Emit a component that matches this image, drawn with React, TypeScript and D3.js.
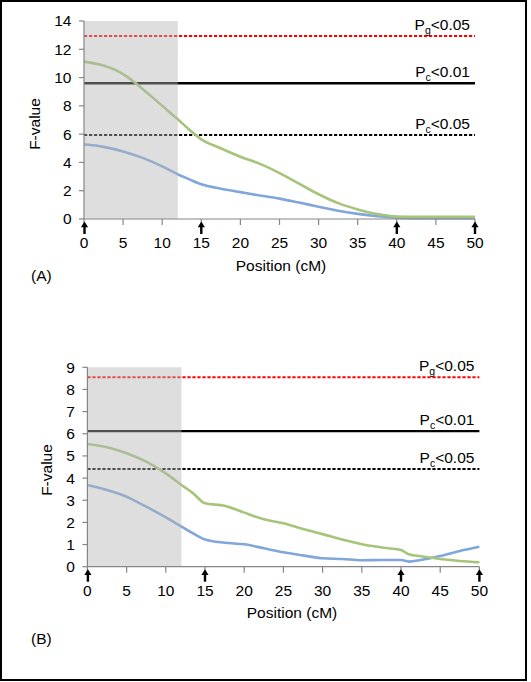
import React from "react";
import * as d3 from "d3";

// ---- Data ----
const posA = [0, 2.5, 5, 7.5, 10, 12, 13.5, 15, 17.5, 20, 22.5, 25, 27.5, 30, 32.5, 35, 37.5, 40, 42.5, 45, 47.5, 50];
const greenA = [11.13, 10.85, 10.25, 9.2, 8.0, 7.05, 6.3, 5.63, 5.0, 4.4, 3.9, 3.25, 2.5, 1.75, 1.12, 0.68, 0.35, 0.17, 0.15, 0.15, 0.15, 0.15];
const blueA = [5.28, 5.1, 4.78, 4.32, 3.72, 3.16, 2.8, 2.45, 2.14, 1.9, 1.66, 1.44, 1.16, 0.87, 0.59, 0.36, 0.19, 0.09, 0.06, 0.05, 0.05, 0.05];
const posB = [0, 2.5, 5, 7.5, 10, 12, 13.5, 15, 17.5, 20, 22.5, 25, 27.5, 30, 32.5, 35, 37.5, 40, 41, 42.5, 45, 47.5, 50];
const greenB = [5.54, 5.39, 5.12, 4.74, 4.21, 3.69, 3.31, 2.86, 2.75, 2.44, 2.14, 1.96, 1.7, 1.47, 1.23, 1.01, 0.87, 0.75, 0.56, 0.47, 0.35, 0.26, 0.2];
const blueB = [3.69, 3.46, 3.16, 2.71, 2.23, 1.81, 1.5, 1.23, 1.08, 1.01, 0.83, 0.65, 0.51, 0.38, 0.35, 0.29, 0.3, 0.3, 0.23, 0.3, 0.48, 0.71, 0.9];

const xTicks = [0, 5, 10, 15, 20, 25, 30, 35, 40, 45, 50];
const arrowPos = [0, 15, 40, 50];
const yTicksA = [0, 2, 4, 6, 8, 10, 12, 14];
const yTicksB = [0, 1, 2, 3, 4, 5, 6, 7, 8, 9];
const shadeEnd = 12;

// thresholds
const thrA = [12.94, 9.6, 5.94];
const thrB = [8.55, 6.12, 4.41];
const thrSub = ["g", "c", "c"];
const thrSuffix = ["<0.05", "<0.01", "<0.05"];

const FONT = "Liberation Sans, Arial, sans-serif";
const FS = 15.5;
const GREEN = "#A6C47A";
const BLUE = "#80A6DA";

type PanelProps = {
  x0: number; x1: number; y0: number; y1: number; ymax: number;
  yTicks: number[]; pos: number[]; green: number[]; blue: number[]; thr: number[];
  label: string; labelX: number; labelBase: number; titleX: number; titleBase: number;
  fvX: number; fvY: number;
};

function Panel(p: PanelProps) {
  const x = d3.scaleLinear().domain([0, 50]).range([p.x0, p.x1]);
  const y = d3.scaleLinear().domain([0, p.ymax]).range([p.y0, p.y1]);
  const line = d3.line<number>()
    .x((_, i) => x(p.pos[i]))
    .curve(d3.curveMonotoneX);
  const gPath = line.y((d) => y(d))(p.green) || "";
  const bPath = line.y((d) => y(d))(p.blue) || "";
  const base = y(0);
  const dashStyles = [
    { stroke: "#FF0000", dash: "3.2,1.8", w: 2 },
    { stroke: "#000000", dash: "", w: 2.4 },
    { stroke: "#000000", dash: "3.2,1.8", w: 2 },
  ];
  return (
    <g>
      {p.thr.map((v, i) => (
        <line key={"t" + i} x1={x(0)} x2={x(50)} y1={y(v)} y2={y(v)}
          stroke={dashStyles[i].stroke} strokeWidth={dashStyles[i].w}
          strokeDasharray={dashStyles[i].dash || undefined} />
      ))}
      {p.thr.map((v, i) => (
        <text key={"l" + i} x={x(50) - 5} y={y(v) - 6} textAnchor="end"
          fontFamily={FONT} fontSize={FS} fill="#000">
          P<tspan fontSize={10.5} dy={4}>{thrSub[i]}</tspan>
          <tspan dy={-4}>{thrSuffix[i]}</tspan>
        </text>
      ))}
      <path d={bPath} fill="none" stroke={BLUE} strokeWidth={2.6} />
      <path d={gPath} fill="none" stroke={GREEN} strokeWidth={2.6} />
      <rect x={x(0)} y={y(p.ymax)} width={x(shadeEnd) - x(0)} height={base - y(p.ymax)}
        fill="#b4b4b4" fillOpacity={0.44} />
      <line x1={x(0)} x2={x(0)} y1={y(p.ymax)} y2={base} stroke="#868686" strokeWidth={1.2} />
      <line x1={x(0)} x2={x(50)} y1={base} y2={base} stroke="#868686" strokeWidth={1.2} />
      {p.yTicks.map((t) => (
        <g key={"y" + t}>
          <line x1={x(0) - 5} x2={x(0)} y1={y(t)} y2={y(t)} stroke="#868686" strokeWidth={1.2} />
          <text x={x(0) - 12.5} y={y(t)} dy="0.35em" textAnchor="end" fontFamily={FONT} fontSize={FS}>{t}</text>
        </g>
      ))}
      {xTicks.map((t) => (
        <g key={"x" + t}>
          <line x1={x(t)} x2={x(t)} y1={base} y2={base + 6} stroke="#868686" strokeWidth={1.2} />
          <text x={x(t)} y={base + 29} textAnchor="middle" fontFamily={FONT} fontSize={FS}>{t}</text>
        </g>
      ))}
      {arrowPos.map((a) => {
        const ax = x(a) + (a === 0 ? 0.5 : 0);
        return (
          <g key={"a" + a}>
            <line x1={ax} x2={ax} y1={base + 7} y2={base + 15} stroke="#000" strokeWidth={2.4} />
            <path d={`M${ax},${base + 2.5} L${ax - 3.6},${base + 8.3} L${ax + 3.6},${base + 8.3} Z`} fill="#000" />
          </g>
        );
      })}
      <text x={p.titleX} y={p.titleBase} textAnchor="middle" fontFamily={FONT} fontSize={FS}>Position (cM)</text>
      <text transform={`translate(${p.fvX},${p.fvY}) rotate(-90)`} dy="0.35em" textAnchor="middle"
        fontFamily={FONT} fontSize={FS}>F-value</text>
      <text x={p.labelX} y={p.labelBase} fontFamily={FONT} fontSize={FS}>{p.label}</text>
    </g>
  );
}

export default function App() {
  return (
    <svg width={531} height={682} style={{ position: "absolute", left: 0, top: 0, background: "#fff" }}>
      <rect x={0} y={0} width={531} height={682} fill="#fff" />
      <rect x={1} y={1} width={525} height={679} fill="none" stroke="#000" strokeWidth={2} />
      <Panel x0={84} x1={475} y0={219} y1={21} ymax={14} yTicks={yTicksA}
        pos={posA} green={greenA} blue={blueA} thr={thrA}
        label="(A)" labelX={31} labelBase={281} titleX={281} titleBase={271}
        fvX={35} fvY={124} />
      <Panel x0={87.4} x1={479.4} y0={566.7} y1={367.3} ymax={9} yTicks={yTicksB}
        pos={posB} green={greenB} blue={blueB} thr={thrB}
        label="(B)" labelX={31} labelBase={644} titleX={292} titleBase={618}
        fvX={47} fvY={470} />
    </svg>
  );
}
